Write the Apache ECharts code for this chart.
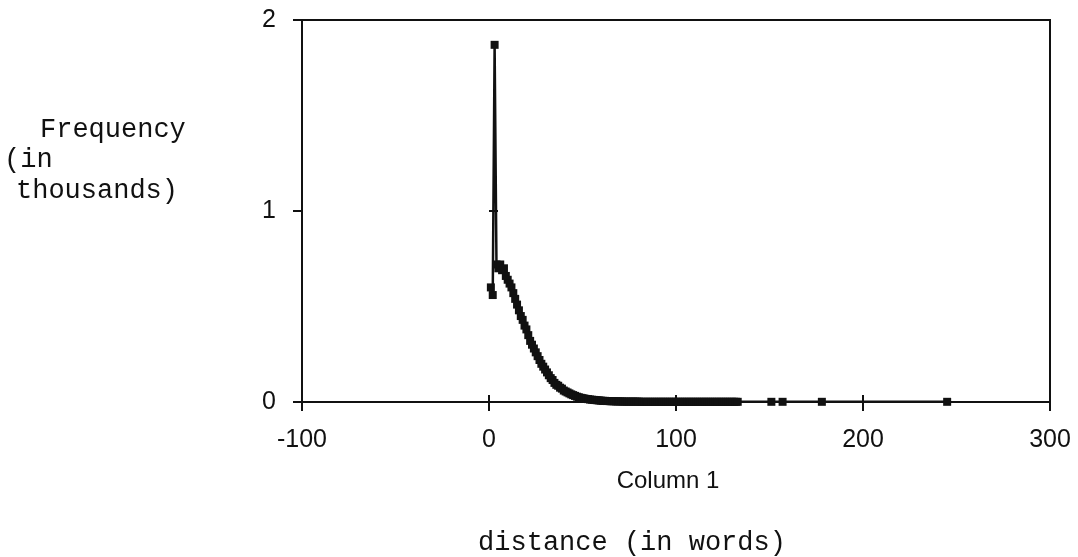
<!DOCTYPE html>
<html>
<head>
<meta charset="utf-8">
<style>
html,body{margin:0;padding:0;background:#fff;}
#chart{width:1078px;height:557px;}
</style>
<script src="https://cdn.jsdelivr.net/npm/echarts@6/dist/echarts.min.js"></script>
</head>
<body>
<div id="chart"></div>
<script>
// distance (in words)
var distances = [
  1,2,3,4,5,6,7,8,9,10,11,12,13,14,15,16,17,18,19,20,
  21,22,23,24,25,26,27,28,29,30,31,32,33,34,35,36,37,38,39,40,
  41,42,43,44,45,46,47,48,49,50,51,52,53,54,55,56,57,58,59,60,
  61,62,63,64,65,66,67,68,69,70,71,72,73,74,75,76,77,78,79,80,
  81,82,83,84,85,86,87,88,89,90,91,92,93,94,95,96,97,98,99,100,
  101,102,103,104,105,106,107,108,109,110,111,112,113,114,115,116,117,118,119,120,
  121,122,123,124,125,126,127,128,129,130,131,132,133,
  151,157,178,245
];
// frequency (in thousands)
var frequencies = [
  0.60,0.56,1.87,0.72,0.70,0.72,0.69,0.70,0.66,0.64,0.62,0.60,0.57,0.54,0.51,0.48,0.45,0.43,0.40,0.38,
  0.35,0.32,0.30,0.28,0.26,0.24,0.22,0.20,0.185,0.17,0.155,0.14,0.125,0.115,0.10,0.09,0.085,0.075,0.07,0.06,
  0.055,0.05,0.045,0.04,0.036,0.032,0.028,0.025,0.022,0.02,0.018,0.016,0.015,0.013,0.012,0.011,0.010,0.009,0.008,0.007,
  0.006,0.006,0.005,0.005,0.004,0.004,0.004,0.003,0.003,0.003,0.003,0.002,0.002,0.002,0.002,0.002,0.002,0.002,0.002,0.002,
  0.001,0.001,0.001,0.001,0.001,0.001,0.001,0.001,0.001,0.001,0.001,0.001,0.001,0.001,0.001,0.001,0.001,0.001,0.001,0.001,
  0.001,0.001,0.001,0.001,0.001,0.001,0.001,0.001,0.001,0.001,0.001,0.001,0.001,0.001,0.001,0.001,0.001,0.001,0.001,0.001,
  0.001,0.001,0.001,0.001,0.001,0.001,0.001,0.001,0.001,0.001,0.001,0.001,0.001,
  0.001,0.001,0.001,0.001
];
var xTicks = [-100, 0, 100, 200, 300];
var yTicks = [0, 1, 2];

var points = distances.map(function (d, i) { return [d, frequencies[i]]; });

var chart = echarts.init(document.getElementById('chart'), null, {renderer: 'canvas'});
var ink = '#111';
var tickFont = {color: ink, fontFamily: 'Liberation Sans', fontSize: 25};
chart.setOption({
  animation: false,
  backgroundColor: '#fff',
  grid: {left: 302, right: 28, top: 20, bottom: 155, show: true, borderColor: ink, borderWidth: 2},
  xAxis: [{
    type: 'value', min: xTicks[0], max: xTicks[xTicks.length - 1], interval: 100,
    position: 'bottom',
    axisLine: {show: true, onZero: false, lineStyle: {color: ink, width: 2}},
    axisTick: {show: true, length: 9, lineStyle: {color: ink, width: 2}},
    axisLabel: Object.assign({margin: 26}, tickFont),
    splitLine: {show: false}
  }, {
    type: 'value', min: xTicks[0], max: xTicks[xTicks.length - 1], interval: 100,
    position: 'bottom', offset: 0,
    axisLine: {show: false},
    axisTick: {show: true, inside: true, length: 7, lineStyle: {color: ink, width: 2}},
    axisLabel: {show: false},
    splitLine: {show: false}
  }],
  yAxis: [{
    type: 'value', min: yTicks[0], max: yTicks[yTicks.length - 1], interval: 1,
    position: 'left',
    axisLine: {show: true, onZero: false, lineStyle: {color: ink, width: 2}},
    axisTick: {show: true, length: 9, lineStyle: {color: ink, width: 2}},
    axisLabel: Object.assign({margin: 26}, tickFont),
    splitLine: {show: false}
  }, {
    type: 'value', min: yTicks[0], max: yTicks[yTicks.length - 1], interval: 1,
    position: 'left', offset: 0,
    axisLine: {show: false},
    axisTick: {show: true, inside: true, length: 9, lineStyle: {color: ink, width: 2}},
    axisLabel: {show: false},
    splitLine: {show: false}
  }],
  series: [{
    type: 'line',
    data: points,
    symbol: 'rect',
    symbolSize: 8,
    showSymbol: true,
    itemStyle: {color: ink},
    lineStyle: {color: ink, width: 2.5},
    z: 3
  }],
  graphic: [
    {type: 'text', left: 40, top: 116, style: {text: 'Frequency', fill: ink, font: '27px "Liberation Mono"'}},
    {type: 'text', left: 4, top: 146, style: {text: '(in', fill: ink, font: '27px "Liberation Mono"'}},
    {type: 'text', left: 16, top: 177, style: {text: 'thousands)', fill: ink, font: '27px "Liberation Mono"'}},
    {type: 'text', x: 668, y: 481, style: {text: 'Column 1', fill: ink, font: '24px "Liberation Sans"', align: 'center', verticalAlign: 'middle'}},
    {type: 'text', x: 632, y: 543, style: {text: 'distance (in words)', fill: ink, font: '27px "Liberation Mono"', align: 'center', verticalAlign: 'middle'}}
  ]
});
</script>
</body>
</html>
